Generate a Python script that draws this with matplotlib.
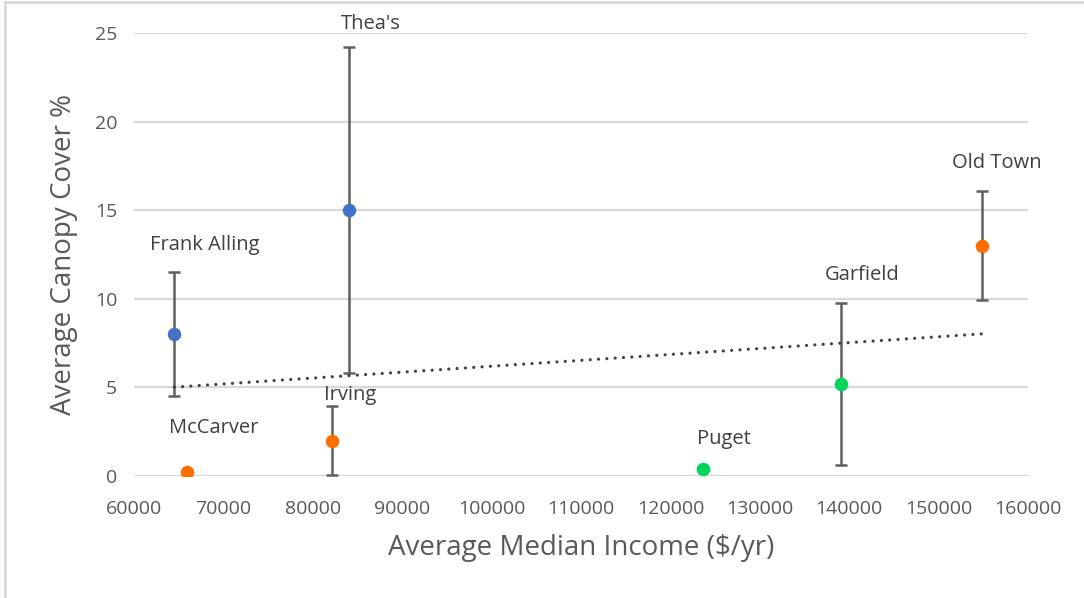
import numpy as np
import matplotlib
matplotlib.use('Agg')
import matplotlib.pyplot as plt
from matplotlib.lines import Line2D

plt.rcParams['font.family'] = ['Open Sans', 'DejaVu Sans']

# school data
names = ['Frank Alling', "Thea's", 'McCarver', 'Irving', 'Puget', 'Garfield', 'Old Town']
income = [64500, 84000, 65900, 82100, 123700, 139050, 154900]
canopy = [8.0, 15.0, 0.25, 2.0, 0.38, 5.2, 13.0]
err = [3.5, 9.2, 0.0, 1.95, 0.0, 4.58, 3.07]
colors = ['#4472C4', '#4472C4', '#FF6F00', '#FF6F00', '#00D45A', '#00D45A', '#FF6F00']

x_ticks = list(range(60000, 160001, 10000))
y_ticks = [0, 5, 10, 15, 20, 25]

# label offsets in pixels (dx, dy) from the point
label_off = [(31, 89), (22, 186), (27, 44), (19, 46), (20, 30), (21, 109), (14, 83)]

fig = plt.figure(figsize=(10.84, 5.98), dpi=100)
ax = fig.add_axes([134/1084, 1-476/598, (1028-134)/1084, (476-33)/598])

ax.set_xlim(60000, 160000)
ax.set_ylim(0, 25)
for s in ax.spines.values():
    s.set_visible(False)
ax.set_yticks(y_ticks)
ax.set_xticks(x_ticks)
ax.grid(True, axis='y', color='#D9D9D9', linewidth=1.6)
ax.set_axisbelow(True)
ax.tick_params(length=0, labelsize=14, colors='#595959')
ax.tick_params(axis='x', pad=17)
ax.tick_params(axis='y', pad=12)

for i in range(len(names)):
    if err[i] > 0:
        ax.errorbar(income[i], canopy[i], yerr=err[i], fmt='none', ecolor='#5F5F5F',
                    elinewidth=1.8, capsize=4, capthick=1.8, zorder=2)
    ax.scatter(income[i], canopy[i], s=95, color=colors[i], zorder=3, linewidths=0)
    ax.annotate(names[i], (income[i], canopy[i]), xytext=(label_off[i][0]*0.72, label_off[i][1]*0.72),
                textcoords='offset points', ha='center', va='center', fontsize=14.5,
                color='#404040', annotation_clip=False)

# linear trendline over all points
coef = np.polyfit(income, canopy, 1)
tx = np.array([min(income), max(income)])
ax.plot(tx, np.polyval(coef, tx), linestyle=(0, (0.01, 2.6)), color='#404040', linewidth=2.3,
        dash_capstyle='round', zorder=2.5)

ax.set_xlabel('Average Median Income ($/yr)', fontsize=20, color='#595959', labelpad=12)
ax.set_ylabel('Average Canopy Cover %', fontsize=20, color='#595959', labelpad=12)

# light frame edges as in the original image
fig.add_artist(Line2D([5/1084, 1], [1-2/598, 1-2/598], color='#D9D9D9', linewidth=2, transform=fig.transFigure))
fig.add_artist(Line2D([5/1084, 5/1084], [0, 1-2/598], color='#D9D9D9', linewidth=2, transform=fig.transFigure))

fig.savefig('out.png', dpi=100)
